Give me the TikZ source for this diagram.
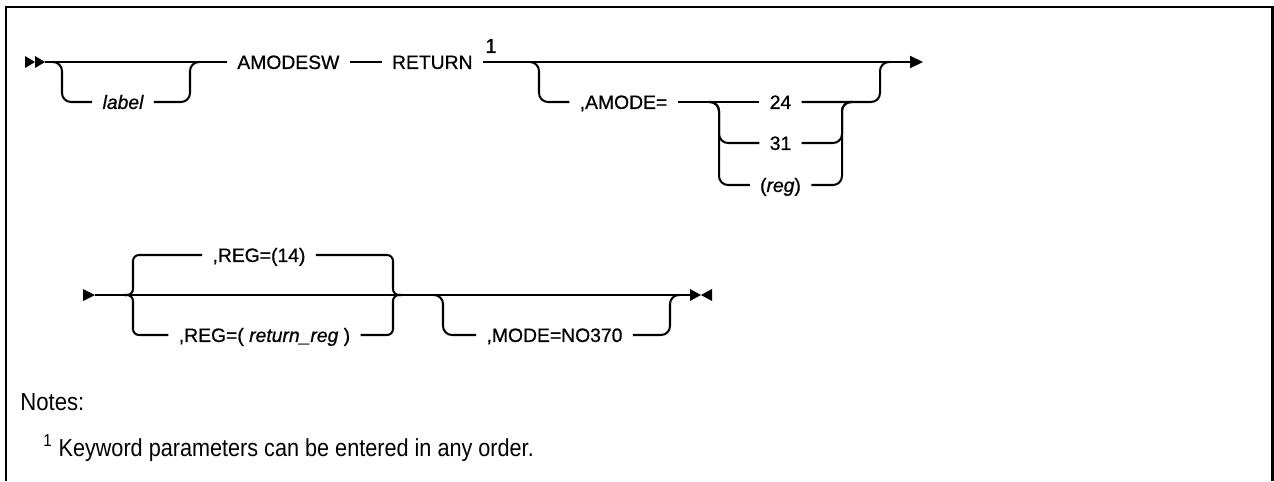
\documentclass[tikz,border=0pt]{standalone}
\usepackage{fontspec}
\setmainfont{Liberation Sans}
\newfontfamily\railfont[FakeBold=0.7]{Liberation Sans}
\usetikzlibrary{arrows.meta,positioning}

\tikzset{
  rail/.style={line width=1.15pt},
  railbend/.style={rounded corners=0.18cm},
  railcurl/.style={rounded corners=0.12cm},
  kw/.style={font=\railfont\fontsize{11}{13}\selectfont, inner xsep=0.2cm, inner ysep=0pt, text height=7.9pt, text depth=0pt},
  var/.style={kw, font=\railfont\fontsize{11}{13}\selectfont\itshape},
  boxline/.style={line width=1.5pt},
  notes/.style={font=\fontsize{14}{16}\selectfont, inner sep=0pt, anchor=base west}
}

\begin{document}
\begin{tikzpicture}[x=0.02cm, y=-0.02cm]
  \useasboundingbox (0,0) rectangle (1274,481);

  % Frame, open at the bottom
  \draw[boxline] (6,481) -- (6,7) -- (1272.5,7) -- (1272.5,481);

  % Row 1: start, label, AMODESW RETURN
  \coordinate (st1) at (45,62);
  \fill (25,56) -- (35,62) -- (25,68) -- cycle;
  \fill (35,56) -- (45,62) -- (35,68) -- cycle;
  \node[kw, anchor=west] (amodesw) at (227,62) {AMODESW};
  \node[kw, right=0.64cm of amodesw] (return) {RETURN};
  \node[font=\railfont\fontsize{11.5}{13}\selectfont, inner sep=0pt] (fn1) at (491,46) {1};
  \coordinate (r1end) at (923,62);
  \draw[rail] (st1) -- (amodesw);
  \draw[rail] (amodesw) -- (return);
  \draw[rail, -{Triangle[length=0.26cm, width=0.24cm]}] (return) -- (r1end);

  % optional label
  \node[var] (lbl) at (123,102) {label};
  \coordinate (lblin) at (52,62);
  \coordinate (lblout) at (200,62);
  \draw[rail, railbend] (lblin) -- ++(10,0) |- (lbl.west);
  \draw[rail, railbend] (lblout) -- ++(-10,0) |- (lbl.east);

  % optional AMODE= with its choices
  \node[kw] (amode) at (623.5,102) {,AMODE=};
  \node[kw] (n24) at (780.5,102) {24};
  \node[kw] (n31) at (780.5,143) {31};
  \node[kw] (nreg) at (780.5,185) {(\textit{reg})};
  \coordinate (amin) at (530,62);
  \coordinate (amout) at (890,62);
  \draw[rail, railbend] (amin) -- ++(9,0) |- (amode.west);
  \draw[rail, railbend] (amout) -- ++(-10,0) |- (n24.east);
  \draw[rail] (amode) -- (n24);
  \coordinate (chin) at (709,102);
  \coordinate (chout) at (852,102);
  \draw[rail, railbend] (chin) -- ++(10,0) |- (n31.west);
  \draw[rail, railbend] (chin) -- ++(10,0) |- (nreg.west);
  \draw[rail, railbend] (chout) -- ++(-10,0) |- (n31.east);
  \draw[rail, railbend] (chout) -- ++(-10,0) |- (nreg.east);

  % Row 2: REG= choice, optional MODE=, end
  \coordinate (st2) at (95,295);
  \coordinate (end2) at (690,295);
  \fill (83,289) -- (95,295) -- (83,301) -- cycle;
  \draw[rail] (st2) -- (end2);
  \fill (690,289) -- (701,295) -- (690,301) -- cycle;
  \fill (712,289) -- (701,295) -- (712,301) -- cycle;

  \node[kw] (reg14) at (259,255) {,REG=(14)};
  \node[kw] (regrr) at (264.5,335) {,REG=( \textit{return\_reg} )};
  \coordinate (rgin) at (125,295);
  \coordinate (rgout) at (401,295);
  \draw[rail, railcurl] (rgin) -- ++(8,0) |- (reg14.west);
  \draw[rail, railcurl] (rgin) -- ++(8,0) |- (regrr.west);
  \draw[rail, railcurl] (rgout) -- ++(-8,0) |- (reg14.east);
  \draw[rail, railcurl] (rgout) -- ++(-8,0) |- (regrr.east);

  \node[kw] (mode) at (554.5,335) {,MODE=NO370};
  \coordinate (mdin) at (433,295);
  \coordinate (mdout) at (680,295);
  \draw[rail, railbend] (mdin) -- ++(10,0) |- (mode.west);
  \draw[rail, railbend] (mdout) -- ++(-10,0) |- (mode.east);

  % Notes
  \node[notes] (notes) at (20,410) {\scalebox{0.9}[1]{Notes:}};
  \node[notes] (fntext) at (43,456) {\scalebox{0.88}[1]{\textsuperscript{1} Keyword parameters can be entered in any order.}};
\end{tikzpicture}
\end{document}
